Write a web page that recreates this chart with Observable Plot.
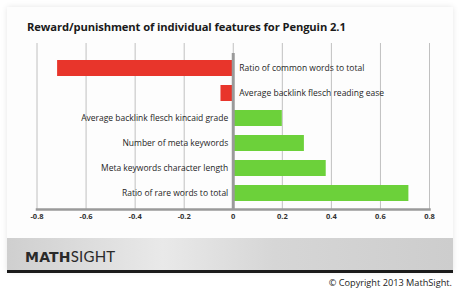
<!DOCTYPE html>
<html>
<head>
<meta charset="utf-8">
<script src="https://cdn.jsdelivr.net/npm/d3@7"></script>
<script src="https://cdn.jsdelivr.net/npm/@observablehq/plot@0.6"></script>
<style>
  html, body { margin: 0; padding: 0; background: #fff; }
  #page { position: relative; width: 460px; height: 293px; overflow: hidden; background: #fff; font-family: "Open Sans", "Noto Sans", sans-serif; }
  #panel { position: absolute; left: 7px; top: 7px; width: 446px; height: 265px; background: #fdfdfd; box-shadow: 0 0 6px rgba(0,0,0,0.10); }
  #title { position: absolute; left: 27px; top: 19px; font-size: 11.2px; font-weight: 700; color: #1a1a1a; letter-spacing: -0.1px; }
  #chart { position: absolute; left: 0; top: 43px; }
  #footer { position: absolute; left: 7px; top: 238px; width: 446px; height: 32px; border-bottom: 3px solid #1b1b1b;
            background: linear-gradient(90deg, #cfcfcf 0%, #e9e9e9 35%, #d6d6d6 60%, #cdcdcd 100%); }
  #logo { position: absolute; left: 18px; top: 8px; font-size: 15px; color: #2a2a2a; letter-spacing: 0.2px; }
  #logo b { font-weight: 800; font-family: "DejaVu Sans", sans-serif; font-size: 14px; }
  #logo span { font-weight: 400; font-family: "Lato", sans-serif; }
  #copy { position: absolute; right: 8px; top: 276px; font-size: 9.2px; color: #222; }
</style>
</head>
<body>
<div id="page">
  <div id="panel"></div>
  <div id="title">Reward/punishment of individual features for Penguin 2.1</div>
  <div id="chart"></div>
  <div id="footer"><div id="logo"><b>MATH</b><span>SIGHT</span></div></div>
  <div id="copy">© Copyright 2013 MathSight.</div>
</div>
<script>
const features = [
  "Ratio of common words to total",
  "Average backlink flesch reading ease",
  "Average backlink flesch kincaid grade",
  "Number of meta keywords",
  "Meta keywords character length",
  "Ratio of rare words to total"
];
const weights = [-0.716, -0.05, 0.20, 0.29, 0.379, 0.716];
const xTicks = [-0.8, -0.6, -0.4, -0.2, 0, 0.2, 0.4, 0.6, 0.8];

const data = features.map((f, i) => ({feature: f, value: weights[i]}));
const neg = data.filter(d => d.value < 0);
const pos = data.filter(d => d.value >= 0);

const chart = Plot.plot({
  width: 460,
  height: 186,
  marginLeft: 36.5,
  marginRight: 31,
  marginTop: 10,
  marginBottom: 20,
  x: {domain: [-0.8, 0.8]},
  y: {domain: features, paddingInner: 0.35, paddingOuter: 0.2, axis: null},
  style: {fontFamily: "Open Sans, sans-serif", background: "transparent", overflow: "visible"},
  marks: [
    Plot.ruleX(xTicks, {stroke: "#c0c0c0", strokeWidth: 1, insetTop: -10}),
    Plot.frame({anchor: "bottom", stroke: "#9a9a9a", strokeWidth: 2.5}),
    Plot.axisX({ticks: xTicks, tickSize: 0, tickPadding: 4, tickFormat: d => String(d),
                fontSize: 7.5, fontWeight: 700, fill: "#333", label: null}),
    Plot.barX(data, {x: "value", y: "feature", fill: d => d.value < 0 ? "#e8352b" : "#6cd13a"}),
    Plot.ruleX([0], {stroke: "#9a9a9a", strokeWidth: 3}),
    Plot.text(neg, {x: 0, y: "feature", text: "feature", textAnchor: "start", dx: 6,
      fontSize: 8.5, fill: "#1f1f1f"}),
    Plot.text(pos, {x: 0, y: "feature", text: "feature", textAnchor: "end", dx: -5,
      fontSize: 8.5, fill: "#1f1f1f"})
  ]
});
document.getElementById("chart").appendChild(chart);
</script>
</body>
</html>
